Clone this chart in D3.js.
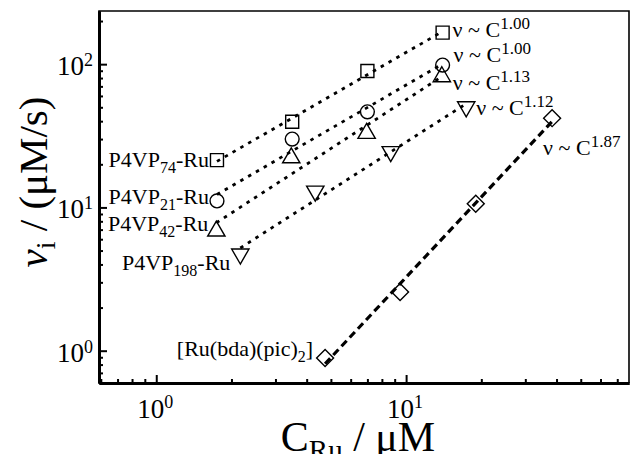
<!DOCTYPE html>
<html>
<head>
<meta charset="utf-8">
<script src="https://cdn.jsdelivr.net/npm/d3@7"></script>
<style>
body { margin: 0; background: #fff }
text { font-family: "Liberation Serif", "Times New Roman", serif; fill: #000 }
</style>
</head>
<body>
<svg width="632" height="454"></svg>
<script>
// concentrations (uM) and initial rates (uM/s)
var concP74 = [1.75, 3.5, 7.0, 14.0]
var rateP74 = [21.4, 39.6, 89.5, 166]
var concP21 = [1.75, 3.5, 7.0, 14.0]
var rateP21 = [11.1, 30.0, 46.5, 98.6]
var concP42 = [1.74, 3.47, 6.95, 13.9]
var rateP42 = [6.84, 22.2, 32.9, 81.7]
var concP198 = [2.17, 4.33, 8.68, 17.4]
var rateP198 = [4.73, 13.0, 24.5, 50.4]
var concMono = [4.74, 9.46, 19.0, 38.4]
var rateMono = [0.89, 2.57, 10.6, 42.0]

var labelBase = ['P4VP', 'P4VP', 'P4VP', 'P4VP', '[Ru(bda)(pic)']
var labelSub = ['74', '21', '42', '198', '2']
var labelTail = ['-Ru', '-Ru', '-Ru', '-Ru', ']']
var exponents = ['1.00', '1.00', '1.13', '1.12', '1.87']
var majorTicks = [1, 10, 100]
var tickExp = ['0', '1', '2']

var series = [
  {x: concP74, y: rateP74, shape: 'square', dash: 'dot'},
  {x: concP21, y: rateP21, shape: 'circle', dash: 'dot'},
  {x: concP42, y: rateP42, shape: 'up', dash: 'dot'},
  {x: concP198, y: rateP198, shape: 'down', dash: 'dot'},
  {x: concMono, y: rateMono, shape: 'diamond', dash: 'dash'}
]

// label / annotation placement relative to first / last point
var labelOffset = [[-8, 7], [-8, 3], [-8, 0], [-10, 16], [-12, -2]]
var annotOffset = [[10, 4], [11, -3], [11, 13], [10, 8], [-9, 37]]

var svg = d3.select('svg')
var x = d3.scaleLog().domain([0.59, 78]).range([99, 629])
var y = d3.scaleLog().domain([0.595, 235]).range([383, 11])

function minorTicks(scale) {
  var d = scale.domain(), out = []
  for (var e = -1; e <= 3; e++)
    for (var m = 2; m <= 9; m++) {
      var v = m * Math.pow(10, e)
      if (v > d[0] && v < d[1]) out.push(v)
    }
  return out
}

// frame: thin top/right, heavy left/bottom
svg.append('path')
  .attr('d', 'M99,383V11H629V383')
  .attr('fill', 'none').attr('stroke', '#000').attr('stroke-width', 1.6)

function styleAxis(g, w) {
  g.selectAll('.tick line').attr('stroke-width', 2)
  g.select('.domain').attr('stroke-width', w)
}

svg.append('g').attr('transform', 'translate(0,383)')
  .call(d3.axisBottom(x).tickValues(minorTicks(x)).tickSize(-4).tickSizeOuter(0).tickFormat(''))
  .call(styleAxis, 3)
svg.append('g').attr('transform', 'translate(0,383)')
  .call(d3.axisBottom(x).tickValues(majorTicks.filter(function (v) { return v < 78 })).tickSize(-8).tickSizeOuter(0).tickFormat(''))
  .call(styleAxis, 3)
svg.append('g').attr('transform', 'translate(99,0)')
  .call(d3.axisLeft(y).tickValues(minorTicks(y)).tickSize(-4).tickSizeOuter(0).tickFormat(''))
  .call(styleAxis, 3)
svg.append('g').attr('transform', 'translate(99,0)')
  .call(d3.axisLeft(y).tickValues(majorTicks).tickSize(-8).tickSizeOuter(0).tickFormat(''))
  .call(styleAxis, 3)

// tick labels 10^n
majorTicks.forEach(function (v, i) {
  var t = svg.append('text').attr('x', 93).attr('y', y(v) + 11)
    .attr('text-anchor', 'end').style('font-size', '27px')
  t.append('tspan').text('10')
  t.append('tspan').attr('dy', -9).style('font-size', '18px').text(tickExp[i])
  if (v < 78) {
    var tx = svg.append('text').attr('x', x(v) - 1).attr('y', 418)
      .attr('text-anchor', 'middle').style('font-size', '27px')
    tx.append('tspan').text('10')
    tx.append('tspan').attr('dy', -10).style('font-size', '18px').text(tickExp[i])
  }
})

// power-law fit lines (least squares in log space)
var line = d3.line().x(function (d) { return x(d[0]) }).y(function (d) { return y(d[1]) })
series.forEach(function (s) {
  var lx = s.x.map(Math.log10), ly = s.y.map(Math.log10)
  var mx = d3.mean(lx), my = d3.mean(ly)
  var k = d3.sum(lx, function (v, i) { return (v - mx) * (ly[i] - my) }) /
          d3.sum(lx, function (v) { return (v - mx) * (v - mx) })
  var f = function (c) { return Math.pow(10, my + k * (Math.log10(c) - mx)) }
  var x0 = s.x[0], x1 = s.x[s.x.length - 1]
  svg.append('path')
    .attr('d', line([[x0, f(x0)], [x1, f(x1)]]))
    .attr('fill', 'none').attr('stroke', '#000')
    .attr('stroke-width', s.dash == 'dot' ? 2.8 : 3.2)
    .attr('stroke-dasharray', s.dash == 'dot' ? '3.5,5.5' : '7.5,4.5')
})

// markers
var shapes = {
  square: d3.symbol(d3.symbolSquare, 169),
  circle: d3.symbol(d3.symbolCircle, 150),
  up: d3.symbol(d3.symbolTriangle, 130),
  down: d3.symbol(d3.symbolTriangle, 130),
  diamond: d3.symbol(d3.symbolSquare, 144)
}
var rot = {square: 0, circle: 0, up: 0, down: 180, diamond: 45}
series.forEach(function (s) {
  svg.append('g').selectAll('path')
    .data(s.x.map(function (v, i) { return [v, s.y[i]] }))
    .enter().append('path')
    .attr('d', shapes[s.shape])
    .attr('transform', function (d) {
      return 'translate(' + x(d[0]) + ',' + y(d[1]) + ') rotate(' + rot[s.shape] + ')'
    })
    .attr('fill', 'none').attr('stroke', '#000').attr('stroke-width', 1.4)
})

// series labels at the first point
series.forEach(function (s, i) {
  var t = svg.append('text')
    .attr('x', x(s.x[0]) + labelOffset[i][0])
    .attr('y', y(s.y[0]) + labelOffset[i][1])
    .attr('text-anchor', 'end').style('font-size', '22px')
  t.append('tspan').text(labelBase[i])
  t.append('tspan').attr('dy', 6).style('font-size', '16px').text(labelSub[i])
  t.append('tspan').attr('dy', -6).text(labelTail[i])
})

// exponent annotations at the last point
series.forEach(function (s, i) {
  var n = s.x.length - 1
  var t = svg.append('text')
    .attr('x', x(s.x[n]) + annotOffset[i][0])
    .attr('y', y(s.y[n]) + annotOffset[i][1])
    .style('font-size', '22px')
  t.append('tspan').text('\u03bd ~ C')
  t.append('tspan').attr('dy', -8).style('font-size', '17px').text(exponents[i])
})

// axis titles
var yt = svg.append('text').attr('transform', 'translate(47,182) rotate(-90)')
  .attr('text-anchor', 'middle').style('font-size', '41px')
yt.append('tspan').style('font-style', 'italic').text('v')
yt.append('tspan').attr('dy', 8).style('font-size', '28px').text('i')
yt.append('tspan').attr('dy', -8).text(' / (\u03bcM/s)')

var xt = svg.append('text').attr('x', 358).attr('y', 451)
  .attr('text-anchor', 'middle').style('font-size', '42px')
xt.append('tspan').text('C')
xt.append('tspan').attr('dy', 9).style('font-size', '29px').text('Ru')
xt.append('tspan').attr('dy', -9).text(' / \u03bcM')
</script>
</body>
</html>
